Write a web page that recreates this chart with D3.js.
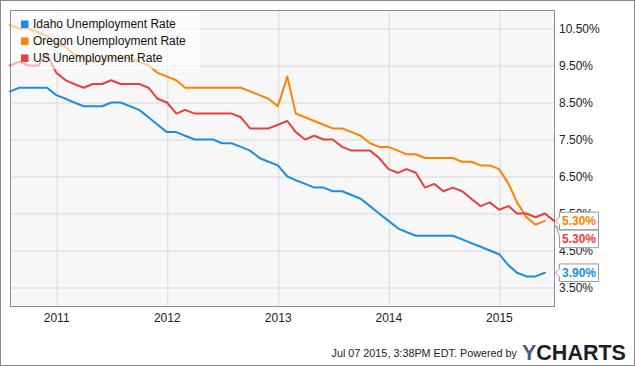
<!DOCTYPE html>
<html><head><meta charset="utf-8">
<script src="https://cdn.jsdelivr.net/npm/d3@7"></script>
<style>html,body{margin:0;padding:0;background:#fff;}svg{display:block;font-family:"Liberation Sans",Arial,sans-serif;}</style>
</head><body><svg id="c" width="635" height="366"></svg>
<script>
const months = ["2010-07","2010-08","2010-09","2010-10","2010-11","2010-12",
"2011-01","2011-02","2011-03","2011-04","2011-05","2011-06","2011-07","2011-08","2011-09","2011-10","2011-11","2011-12",
"2012-01","2012-02","2012-03","2012-04","2012-05","2012-06","2012-07","2012-08","2012-09","2012-10","2012-11","2012-12",
"2013-01","2013-02","2013-03","2013-04","2013-05","2013-06","2013-07","2013-08","2013-09","2013-10","2013-11","2013-12",
"2014-01","2014-02","2014-03","2014-04","2014-05","2014-06","2014-07","2014-08","2014-09","2014-10","2014-11","2014-12",
"2015-01","2015-02","2015-03","2015-04","2015-05","2015-06"];
const idaho = [8.8,8.9,8.9,8.9,8.9,8.7,
8.6,8.5,8.4,8.4,8.4,8.5,8.5,8.4,8.3,8.1,7.9,7.7,
7.7,7.6,7.5,7.5,7.5,7.4,7.4,7.3,7.2,7.0,6.9,6.8,
6.5,6.4,6.3,6.2,6.2,6.1,6.1,6.0,5.9,5.7,5.5,5.3,
5.1,5.0,4.9,4.9,4.9,4.9,4.9,4.8,4.7,4.6,4.5,4.4,
4.1,3.9,3.8,3.8,3.9];
const oregon = [10.6,10.5,10.5,10.4,10.3,10.1,
10.0,9.8,9.7,9.6,9.6,9.7,9.7,9.7,9.6,9.5,9.3,9.2,
9.1,8.9,8.9,8.9,8.9,8.9,8.9,8.9,8.8,8.7,8.6,8.4,
9.2,8.2,8.1,8.0,7.9,7.8,7.8,7.7,7.6,7.4,7.3,7.3,
7.2,7.1,7.1,7.0,7.0,7.0,7.0,6.9,6.9,6.8,6.8,6.7,
6.3,5.8,5.4,5.2,5.3];
const us = [9.5,9.6,9.5,9.5,9.8,9.3,
9.1,9.0,8.9,9.0,9.0,9.1,9.0,9.0,9.0,8.9,8.6,8.5,
8.2,8.3,8.2,8.2,8.2,8.2,8.2,8.1,7.8,7.8,7.8,7.9,
8.0,7.7,7.5,7.6,7.5,7.5,7.3,7.2,7.2,7.2,7.0,6.7,
6.6,6.7,6.6,6.2,6.3,6.1,6.2,6.1,5.9,5.7,5.8,5.6,
5.7,5.5,5.5,5.4,5.5,5.3];
const seriesNames = ["Idaho Unemployment Rate","Oregon Unemployment Rate","US Unemployment Rate"];
const seriesColors = ["#1b8de6","#ff8200","#e8403e"];
const yTicks = [3.5,4.5,5.5,6.5,7.5,8.5,9.5,10.5];
const xTickYears = ["2011","2012","2013","2014","2015"];
const footerText = "Jul 07 2015, 3:38PM EDT.  Powered by";

const svg = d3.select("#c");
const W = 635, H = 366;
const L = 10, R = 554, T = 10, B = 306;

const parseM = d3.timeParse("%Y-%m");
const monthEnd = s => d3.timeDay.offset(d3.timeMonth.offset(parseM(s), 1), -1);
const dates = months.map(monthEnd);

const x = d3.scaleTime().domain([dates[0], dates[dates.length - 1]]).range([L, R]);
const y = d3.scaleLinear().domain([3, 11]).range([B, T]);

// outer border
svg.append("rect").attr("x", 0.5).attr("y", 0.5).attr("width", W - 1).attr("height", H - 1)
  .attr("fill", "#fff").attr("stroke", "#8a8a8a");

// plot background
svg.append("rect").attr("x", L).attr("y", T).attr("width", R - L).attr("height", B - T)
  .attr("fill", "#f7f7f7");

// gridlines
const gy = svg.append("g").attr("transform", `translate(${L},0)`)
  .call(d3.axisRight(y).tickValues(yTicks).tickSize(R - L).tickFormat(""));
gy.select(".domain").remove();
gy.selectAll("line").attr("stroke", "#d9d9d9").attr("stroke-width", 1);

const yearDates = xTickYears.map(s => d3.timeParse("%Y")(s));
const gx = svg.append("g").attr("transform", `translate(0,${T})`)
  .call(d3.axisBottom(x).tickValues(yearDates).tickSize(B - T).tickFormat(""));
gx.select(".domain").remove();
gx.selectAll("line").attr("stroke", "#d9d9d9").attr("stroke-width", 1);

// plot border
svg.append("rect").attr("x", L + 0.5).attr("y", T + 0.5).attr("width", R - L).attr("height", B - T)
  .attr("fill", "none").attr("stroke", "#8f8f8f");

// lines
const seriesData = [idaho, oregon, us];
const line = d3.line().x((d, i) => x(dates[i])).y(d => y(d));
seriesData.forEach((vals, k) => {
  svg.append("path").datum(vals).attr("d", line)
    .attr("fill", "none").attr("stroke", seriesColors[k]).attr("stroke-width", 2)
    .attr("stroke-linejoin", "round").attr("stroke-linecap", "round");
});

// legend
svg.append("rect").attr("x", L + 1).attr("y", T + 1).attr("width", 189).attr("height", 58)
  .attr("fill", "#fff").attr("fill-opacity", 0.6);
seriesNames.forEach((n, k) => {
  const by = 28 + k * 17;
  svg.append("rect").attr("x", 21).attr("y", by - 7.5).attr("width", 7.5).attr("height", 7.5)
    .attr("fill", seriesColors[k]);
  svg.append("text").attr("x", 33).attr("y", by).attr("font-size", 12).attr("fill", "#111").text(n);
});

// y labels (right)
svg.append("g").selectAll("text").data(yTicks).join("text")
  .attr("x", 559).attr("y", d => y(d) + 4.5).attr("font-size", 12).attr("fill", "#222")
  .text(d => d.toFixed(2) + "%");

// x labels
svg.append("g").selectAll("text").data(yearDates).join("text")
  .attr("x", d => x(d)).attr("y", 322).attr("text-anchor", "middle").attr("font-size", 12).attr("fill", "#222")
  .text((d, i) => xTickYears[i]);

// value tags
const lastVals = [idaho[idaho.length - 1], oregon[oregon.length - 1], us[us.length - 1]];
const tagH = 17.5, tagX = 559.5, tagW = 39;
const tagDefs = [
  {k: 1, cy: y(lastVals[1]), tipY: y(lastVals[1])},
  {k: 2, cy: y(lastVals[1]) + tagH + 0.5, tipY: y(lastVals[1]) + 4},
  {k: 0, cy: y(lastVals[0]), tipY: y(lastVals[0])}
];
tagDefs.forEach(t => {
  const top = t.cy - tagH / 2, bot = t.cy + tagH / 2;
  let p;
  if (t.tipY >= top + 3) {
    p = `M${tagX},${top}H${tagX + tagW}V${bot}H${tagX}V${t.tipY + 4}L${tagX - 4},${t.tipY}L${tagX},${t.tipY - 4}Z`;
  } else {
    p = `M${tagX},${top}H${tagX + tagW}V${bot}H${tagX}V${top + 6}L${tagX - 4},${t.tipY}Z`;
  }
  svg.append("path").attr("d", p).attr("fill", "#fff").attr("stroke", "#9a9a9a").attr("stroke-width", 1);
  svg.append("text").attr("x", tagX + 2.5).attr("y", t.cy + 4.5).attr("font-size", 12).attr("font-weight", "bold")
    .attr("fill", seriesColors[t.k]).text(lastVals[t.k].toFixed(2) + "%");
});

// footer
svg.append("text").attr("x", 517).attr("y", 357).attr("text-anchor", "end").attr("font-size", 10.8)
  .attr("fill", "#222").text(footerText);
const logo = svg.append("text").attr("x", 522).attr("y", 360).attr("font-size", 21.5).attr("font-weight", "bold");
logo.append("tspan").attr("fill", "#4d5f80").text("Y");
logo.append("tspan").attr("fill", "#1d1f24").text("CHARTS");
</script></body></html>
